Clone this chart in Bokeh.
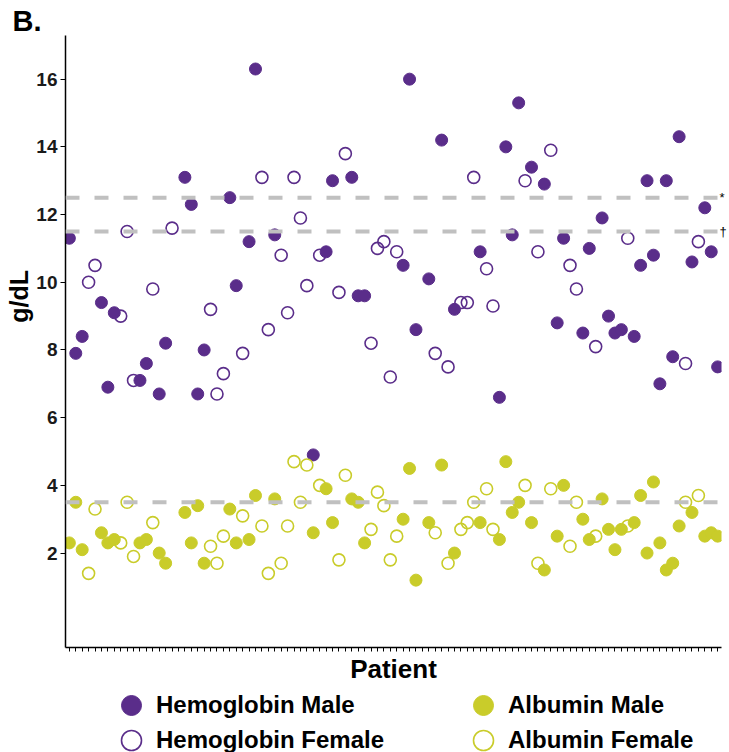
from bokeh.plotting import figure
from bokeh.layouts import column
from bokeh.models import Range1d, FixedTicker, Span, Legend, LegendItem, LinearAxis
from bokeh.embed import file_html
from bokeh.resources import INLINE

# ---------------- data ----------------
patients = list(range(1, 103))
sex = list("MMMFFMMMFF" "FMMFMMFMMM" "MMFFFMMFMM" "FFMFFFFFMF" "MMFFMMMFFF"
           "FFMMMMMFMF" "MFFFMFFMMM" "MFMFMFMMFF" "MMFMMMMFMM" "MMMMMMFMFM" "MM")
hemoglobin = [11.3, 7.9, 8.4, 10.0, 10.5, 9.4, 6.9, 9.1, 9.0, 11.5,
              7.1, 7.1, 7.6, 9.8, 6.7, 8.2, 11.6, None, 13.1, 12.3,
              6.7, 8.0, 9.2, 6.7, 7.3, 12.5, 9.9, 7.9, 11.2, 16.3,
              13.1, 8.6, 11.4, 10.8, 9.1, 13.1, 11.9, 9.9, 4.9, 10.8,
              10.9, 13.0, 9.7, 13.8, 13.1, 9.6, 9.6, 8.2, 11.0, 11.2,
              7.2, 10.9, 10.5, 16.0, 8.6, None, 10.1, 7.9, 14.2, 7.5,
              9.2, 9.4, 9.4, 13.1, 10.9, 10.4, 9.3, 6.6, 14.0, 11.4,
              15.3, 13.0, 13.4, 10.9, 12.9, 13.9, 8.8, 11.3, 10.5, 9.8,
              8.5, 11.0, 8.1, 11.9, 9.0, 8.5, 8.6, 11.3, 8.4, 10.5,
              13.0, 10.8, 7.0, 13.0, 7.8, 14.3, 7.6, 10.6, 11.2, 12.2,
              10.9, 7.5]
albumin = [2.3, 3.5, 2.1, 1.4, 3.3, 2.6, 2.3, 2.4, 2.3, 3.5,
           1.9, 2.3, 2.4, 2.9, 2.0, 1.7, None, None, 3.2, 2.3,
           3.4, 1.7, 2.2, 1.7, 2.5, 3.3, 2.3, 3.1, 2.4, 3.7,
           2.8, 1.4, 3.6, 1.7, 2.8, 4.7, 3.5, 4.6, 2.6, 4.0,
           3.9, 2.9, 1.8, 4.3, 3.6, 3.5, 2.3, 2.7, 3.8, 3.4,
           1.8, 2.5, 3.0, 4.5, 1.2, None, 2.9, 2.6, 4.6, 1.7,
           2.0, 2.7, 2.9, 3.5, 2.9, 3.9, 2.7, 2.4, 4.7, 3.2,
           3.5, 4.0, 2.9, 1.7, 1.5, 3.9, 2.5, 4.0, 2.2, 3.5,
           3.0, 2.4, 2.5, 3.6, 2.7, 2.1, 2.7, 2.8, 2.9, 3.7,
           2.0, 4.1, 2.3, 1.5, 1.7, 2.8, 3.5, 3.2, 3.7, 2.5,
           2.6, 2.5]
reference_lines = [12.5, 11.5, 3.5]
reference_marks = {12.5: "*", 11.5: "\u2020"}
y_ticks = [2, 4, 6, 8, 10, 12, 14, 16]

PURPLE = "#5a2d8a"
YELLOW = "#c9cc2a"
FONT = "Liberation Sans"


def subset(values, which):
    xs, ys = [], []
    for pt, s, v in zip(patients, sex, values):
        if v is not None and s == which:
            xs.append(pt)
            ys.append(v)
    return xs, ys


p = figure(width=729, height=686, output_backend="svg", toolbar_location=None,
           x_range=Range1d(0.4, 102.6), y_range=Range1d(-0.79, 17.29),
           min_border_left=65, min_border_right=6, min_border_top=35,
           min_border_bottom=36)
p.outline_line_color = None
p.xgrid.grid_line_color = None
p.ygrid.grid_line_color = None

# panel letter
p.title.text = "B."
p.title.text_font = FONT
p.title.text_font_style = "bold"
p.title.text_font_size = "29px"
p.title.text_color = "black"
p.title.align = "left"
p.title.offset = -53
p.title.standoff = -3

# reference lines
for val in reference_lines:
    p.add_layout(Span(location=val, dimension="width", line_color="#c0c0c0",
                      line_width=4, line_dash="14 15"))

series = {}
for measure, values, color in [("Hemoglobin", hemoglobin, PURPLE),
                               ("Albumin", albumin, YELLOW)]:
    xf, yf = subset(values, "F")
    xm, ym = subset(values, "M")
    series[measure + " Female"] = (xf, yf, dict(fill_color=None, line_color=color,
                                                line_width=1.6))
    series[measure + " Male"] = (xm, ym, dict(fill_color=color, line_color=color,
                                              line_width=1))
for key in ["Hemoglobin Female", "Hemoglobin Male", "Albumin Female", "Albumin Male"]:
    xs, ys, st = series[key]
    p.scatter(xs, ys, size=12, **st)

# axes
xa = p.xaxis[0]
xa.ticker = FixedTicker(ticks=[], minor_ticks=patients)
xa.minor_tick_out = 4
xa.minor_tick_in = 0
xa.minor_tick_line_color = "black"
xa.minor_tick_line_width = 1
xa.major_tick_line_color = None
xa.axis_line_width = 1.5
xa.axis_label = "Patient"
xa.axis_label_text_font = FONT
xa.axis_label_text_font_style = "bold"
xa.axis_label_text_font_size = "26px"
xa.axis_label_text_color = "black"
xa.axis_label_standoff = 2

ya = p.yaxis[0]
ya.ticker = FixedTicker(ticks=y_ticks)
ya.minor_tick_line_color = None
ya.major_tick_out = 5
ya.major_tick_in = 0
ya.axis_line_width = 1.5
ya.major_label_text_font = FONT
ya.major_label_text_font_style = "bold"
ya.major_label_text_font_size = "19px"
ya.major_label_text_color = "#1a1a1a"
ya.major_label_standoff = 3
# the title sits above the middle of the axis in the original: pad it at its start
ya.axis_label = "\u00a0" * 13 + "g/dL"
ya.axis_label_text_font = FONT
ya.axis_label_text_font_style = "bold"
ya.axis_label_text_font_size = "25px"
ya.axis_label_text_color = "black"
ya.axis_label_standoff = 0

# marks at the end of the reference lines
ra = LinearAxis(ticker=FixedTicker(ticks=list(reference_marks.keys())),
                major_label_overrides=reference_marks,
                axis_line_color=None, major_tick_line_color=None,
                major_tick_out=0, major_tick_in=0,
                minor_tick_line_color=None, minor_tick_out=0, minor_tick_in=0,
                major_label_standoff=-2,
                major_label_text_font=FONT, major_label_text_font_size="13px",
                major_label_text_color="black")
p.add_layout(ra, "right")

# ---------------- legend strip ----------------
# same series, drawn into a range that shows none of them: only the legend is visible
lg_fig = figure(width=729, height=66, output_backend="svg", toolbar_location=None,
                x_axis_type=None, y_axis_type=None, min_border=0,
                x_range=Range1d(0, 1), y_range=Range1d(-10, -9))
lg_fig.outline_line_color = None
lg_fig.xgrid.grid_line_color = None
lg_fig.ygrid.grid_line_color = None

FRAME_LEFT = 65  # the strip's frame is aligned with the main plot's frame
legend_layout = [("Hemoglobin Male", 106, 22), ("Hemoglobin Female", 106, -13),
                 ("Albumin Male", 458, 22), ("Albumin Female", 458, -13)]
for label, lx, ly in legend_layout:
    xs, ys, st = series[label]
    r = lg_fig.scatter(xs, ys, size=12, **st)
    lg = Legend(items=[LegendItem(label=label, renderers=[r])],
                location=(lx - FRAME_LEFT, ly), glyph_width=50, glyph_height=50,
                label_standoff=0, padding=0, margin=0, spacing=0,
                border_line_color=None, background_fill_alpha=0,
                label_text_font=FONT, label_text_font_style="bold",
                label_text_font_size="24px", label_text_color="black")
    lg_fig.add_layout(lg)

layout = column(p, lg_fig, spacing=0)
open("out.html", "w").write(file_html(layout, INLINE))
